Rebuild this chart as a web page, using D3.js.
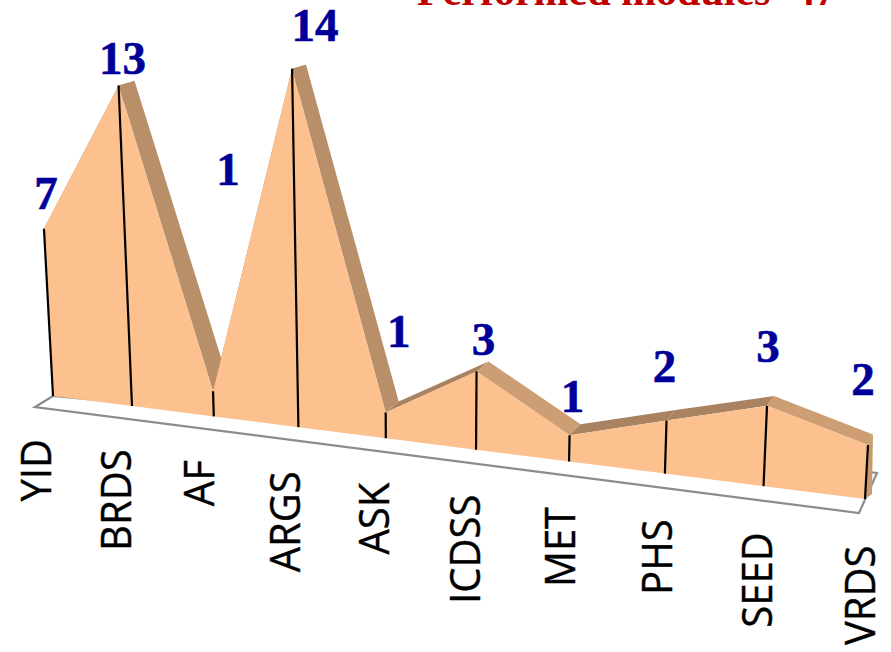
<!DOCTYPE html>
<html>
<head>
<meta charset="utf-8">
<script src="https://cdn.jsdelivr.net/npm/d3@7"></script>
<style>
  html, body { margin: 0; padding: 0; background: #fff; }
  svg { display: block; }
</style>
</head>
<body>
<svg id="chart" width="891" height="652"></svg>
<script>
// data
const modules = ["YID", "BRDS", "AF", "ARGS", "ASK", "ICDSS", "MET", "PHS", "SEED", "VRDS"];
const counts = [7, 13, 1, 14, 1, 3, 1, 2, 3, 2];
const chartTitle = "Performed modules=47";

// where each count label sits relative to the top of its spike
const labelShiftX = [2, 4, 15, 23, 13, 7, 3, -2, 1, -5];
const labelShiftY = [-20, -12, -206, -28, -65, -16, -23, -39, -44, -50];

const svg = d3.select("#chart");
const indexes = d3.range(modules.length);

// -----------------------------
// fake 3D projection, everything goes through these scales
// -----------------------------
const warp = i => 0.86 * (i / 9) + 0.14 * (i / 9) * (i / 9); // columns get wider to the right
const baseX = d3.scaleLinear().domain([0, 1]).range([53, 865]);
const baseY = d3.scaleLinear().domain([53, 865]).range([396, 499]);
const unitH = d3.scaleLinear().domain([0, 1, 3, 9]).range([23.9, 24.65, 25.6, 27]); // pixels per count, nearer = bigger
const lean = d3.scaleLinear().domain([0, 9]).range([-0.054, 0.055]);
const depthX = d3.scaleLinear().domain([0, 6, 9]).range([17, 11, 5]);
const depthY = d3.scaleLinear().domain([0, 14]).range([-11.5, -4]);

const bottom = i => {
  const x = baseX(warp(i));
  return [x, baseY(x)];
};
const front = i => {
  const [x, y] = bottom(i);
  const h = counts[i] * unitH(i);
  return [x + lean(i) * h, y - h];
};
const back = i => {
  const [x, y] = front(i);
  return [x + depthX(i), y + depthY(counts[i])];
};
const poly = pts => d3.line()(pts) + "Z";

// -----------------------------
// floor
// -----------------------------
const lastBase = bottom(9);
const firstBase = bottom(0);
svg.append("path")
  .attr("d", poly([
    firstBase,
    [firstBase[0] - 18, firstBase[1] + 11],
    [lastBase[0] - 6, lastBase[1] + 14],
    [lastBase[0] + 12, lastBase[1] - 26]
  ]))
  .attr("fill", "#fff")
  .attr("stroke", "#8c8c8c")
  .attr("stroke-width", 2.2);

// -----------------------------
// ridge along the top of the area, colour depends on which way it faces
// -----------------------------
const segments = indexes.slice(0, -1);
svg.selectAll(".ridge")
  .data(segments)
  .enter()
  .append("path")
  .attr("class", "ridge")
  .attr("d", i => poly([front(i), back(i), back(i + 1), front(i + 1)]))
  .attr("fill", i => {
    const slope = (front(i + 1)[1] - front(i)[1]) / (front(i + 1)[0] - front(i)[0]);
    if (slope < 0) return "#a98361";
    return slope > 1.5 ? "#b98f6a" : "#cd9d73";
  });

// right end of the area
const end = bottom(9);
svg.append("path")
  .attr("d", poly([front(9), back(9), [end[0] + 7, end[1] - 5], end]))
  .attr("fill", "#c99a70");

// front face
const area = d3.area()
  .x0(i => bottom(i)[0])
  .y0(i => bottom(i)[1])
  .x1(i => front(i)[0])
  .y1(i => front(i)[1]);

svg.append("path")
  .attr("d", area(indexes))
  .attr("fill", "#fcc18f");

// drop lines
svg.selectAll(".drop")
  .data(indexes)
  .enter()
  .append("line")
  .attr("class", "drop")
  .attr("x1", i => front(i)[0])
  .attr("y1", i => front(i)[1])
  .attr("x2", i => bottom(i)[0])
  .attr("y2", i => bottom(i)[1])
  .attr("stroke", "#000")
  .attr("stroke-width", 2.2);

// -----------------------------
// text
// -----------------------------
const tickX = d3.scaleLinear().domain([53, 865]).range([51, 875]);

svg.selectAll(".tick-label")
  .data(indexes)
  .enter()
  .append("text")
  .attr("class", "tick-label")
  .attr("transform", i => {
    const [x, y] = bottom(i);
    return `translate(${tickX(x)},${y + 43 + i * 0.4}) rotate(-90) scale(1,1.05)`;
  })
  .attr("text-anchor", "end")
  .style("font-family", "'Open Sans', sans-serif")
  .style("font-size", "40px")
  .style("fill", "#000")
  .style("stroke", "#000")
  .style("stroke-width", 0.4)
  .text(i => modules[i]);

svg.selectAll(".count-label")
  .data(indexes)
  .enter()
  .append("text")
  .attr("class", "count-label")
  .attr("x", i => front(i)[0] + labelShiftX[i])
  .attr("y", i => front(i)[1] + labelShiftY[i])
  .attr("text-anchor", "middle")
  .style("font-family", "'Liberation Serif', serif")
  .style("font-weight", "bold")
  .style("font-size", "47px")
  .style("fill", "#000099")
  .style("stroke", "#000099")
  .style("stroke-width", 0.6)
  .text(i => counts[i]);

svg.append("text")
  .attr("x", 417)
  .attr("y", 5)
  .style("font-family", "'Liberation Serif', serif")
  .style("font-weight", "bold")
  .style("font-size", "42px")
  .style("fill", "#c00000")
  .text(chartTitle);
</script>
</body>
</html>
